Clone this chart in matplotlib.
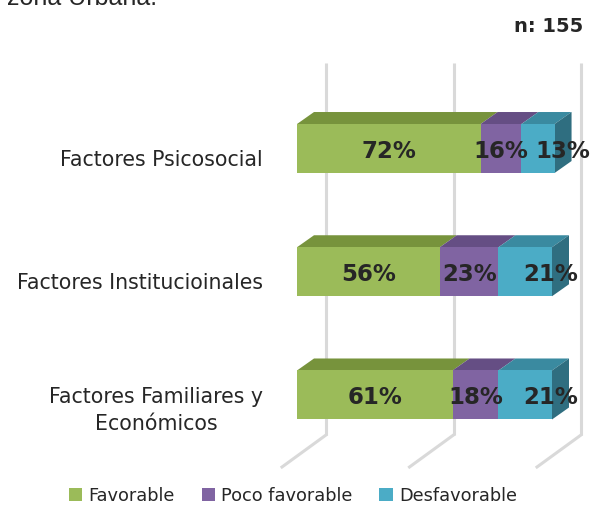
import matplotlib
matplotlib.use("Agg")
import matplotlib.pyplot as plt
from matplotlib.patches import Polygon, Patch
from matplotlib.transforms import ScaledTranslation

# ---- data ----
categories = ["Factores Psicosocial", "Factores Institucioinales",
              "Factores Familiares y\nEconómicos"]
series_names = ["Favorable", "Poco favorable", "Desfavorable"]
favorable = [72, 56, 61]
poco_favorable = [16, 23, 18]
desfavorable = [13, 21, 21]
grid_ticks = [0, 50, 100]
sample_note = "n: 155"
title_tail = "zona Urbana."

front_colors = ["#9BBB59", "#8064A2", "#4BACC6"]
top_colors = ["#77933C", "#654E84", "#3A8AA0"]
side_color = "#2F6E80"
grid_color = "#D9D9D9"
text_color = "#262626"

W, H, DPI = 596, 507, 100
fig = plt.figure(figsize=(W / DPI, H / DPI), dpi=DPI)
fig.patch.set_facecolor("white")

# axes placed in pixel terms
ax_left, ax_right = 297, 552
ax_top, ax_bottom = 86.9, 456.6
ax = fig.add_axes([ax_left / W, 1 - ax_bottom / H,
                   (ax_right - ax_left) / W, (ax_bottom - ax_top) / H])
ax.set_xlim(0, 100)
ax.set_ylim(-0.5, len(categories) - 0.5)
for s in ax.spines.values():
    s.set_visible(False)
ax.set_xticks([])
ax.patch.set_alpha(0)

sx = 100 / (ax_right - ax_left)              # data units per pixel (x)
sy = len(categories) / (ax_bottom - ax_top)  # data units per pixel (y)


def py_to_data(py):
    return (len(categories) - 0.5) - (py - ax_top) * sy


ypos = list(range(len(categories)))[::-1]
bar_h = 49 * sy
ddx, ddy = 17 * sx, 12 * sy          # bar depth offset
wall_dx = 29 * sx                     # back wall offset
floor_dx, floor_dy = -44 * sx, -32 * sy

# gridlines on back wall and floor
grid_top = py_to_data(63)
grid_bot = py_to_data(435)
for g in grid_ticks:
    xb = g + wall_dx
    ax.plot([xb, xb], [grid_top, grid_bot], color=grid_color, lw=2.2,
            zorder=1, clip_on=False, solid_capstyle="butt")
    ax.plot([xb, xb + floor_dx], [grid_bot, grid_bot + floor_dy],
            color=grid_color, lw=2.2, zorder=1, clip_on=False)

series = [favorable, poco_favorable, desfavorable]
lefts = [0] * len(categories)
for si, vals in enumerate(series):
    ax.barh(ypos, vals, left=lefts, height=bar_h,
            color=front_colors[si], zorder=3, clip_on=False,
            edgecolor="none")
    last = si == len(series) - 1
    for i, (y, v) in enumerate(zip(ypos, vals)):
        x0, x1 = lefts[i], lefts[i] + v
        yt = y + bar_h / 2
        top = Polygon([(x0, yt), (x1, yt), (x1 + ddx, yt + ddy),
                       (x0 + ddx, yt + ddy)], closed=True,
                      facecolor=top_colors[si], edgecolor="none",
                      zorder=2.5, clip_on=False)
        ax.add_patch(top)
        if last:
            yb = y - bar_h / 2
            side = Polygon([(x1, yb), (x1, yt), (x1 + ddx, yt + ddy),
                            (x1 + ddx, yb + ddy)], closed=True,
                           facecolor=side_color, edgecolor="none",
                           zorder=2.5, clip_on=False)
            ax.add_patch(side)
        # labels of the end segment sit toward the box's side face
        lx = (x0 + x1) / 2 + (25 * sx if last else 0)
        ax.text(lx, y - 3 * sy, f"{v}%", ha="center",
                va="center", fontsize=16.5, fontweight="bold",
                color=text_color, zorder=5, clip_on=False)
    lefts = [l + v for l, v in zip(lefts, vals)]

# category labels
ax.set_yticks(ypos)
ax.set_yticklabels(categories, fontsize=14.8, color=text_color,
                   multialignment="center", linespacing=1.45)
ax.tick_params(axis="y", length=0, pad=24.5)
shift = ScaledTranslation(0, -7 / 72, fig.dpi_scale_trans)
for lab in ax.get_yticklabels():
    lab.set_transform(lab.get_transform() + shift)

fig.text(583 / W, 1 - 27 / H, sample_note, ha="right", va="center",
         fontsize=14, fontweight="bold", color=text_color)
fig.text(7 / W, 1 - 5 / H, title_tail, ha="left", va="baseline",
         fontsize=18, family="Liberation Sans", color=text_color)

handles = [Patch(facecolor=c, edgecolor="none") for c in front_colors]
fig.legend(handles, series_names, loc="center", ncol=3,
           bbox_to_anchor=(293 / W, 1 - 496 / H), frameon=False,
           fontsize=12.8, handlelength=0.75, handleheight=0.75,
           handletextpad=0.35, columnspacing=1.5, labelcolor=text_color)

fig.savefig("out.png", dpi=DPI, facecolor="white")
